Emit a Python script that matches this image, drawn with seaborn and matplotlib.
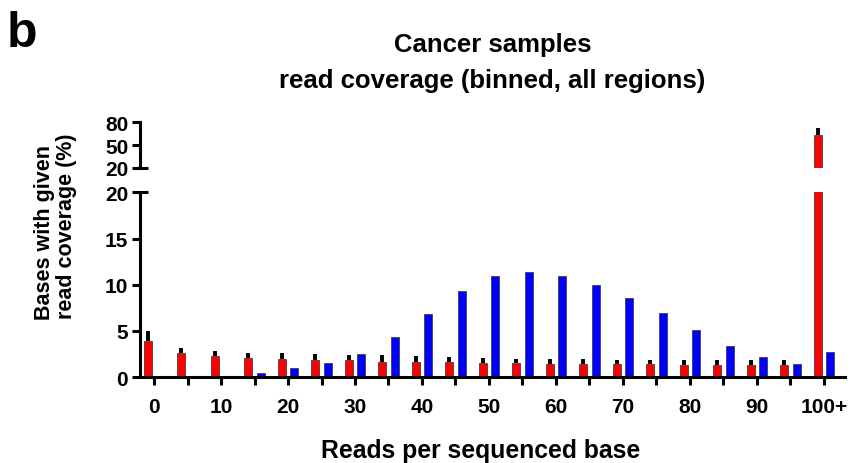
import numpy as np
import pandas as pd
import matplotlib
matplotlib.use("Agg")
import matplotlib.pyplot as plt
import matplotlib.transforms as mtransforms
import seaborn as sns

# ---- data ----
bins = ["0", "5", "10", "15", "20", "25", "30", "35", "40", "45", "50",
        "55", "60", "65", "70", "75", "80", "85", "90", "95", "100+"]
tick_labels = ["0", "", "10", "", "20", "", "30", "", "40", "", "50",
               "", "60", "", "70", "", "80", "", "90", "", "100+"]
red_values = [3.95, 2.6, 2.25, 2.1, 1.95, 1.87, 1.8, 1.66, 1.6, 1.6, 1.55,
              1.5, 1.45, 1.45, 1.42, 1.4, 1.35, 1.35, 1.35, 1.35, 63.0]
red_err = [1.05, 0.55, 0.55, 0.55, 0.6, 0.58, 0.6, 0.68, 0.68, 0.6, 0.5,
           0.45, 0.45, 0.45, 0.45, 0.45, 0.45, 0.45, 0.45, 0.45, 9.0]
blue_values = [0.0, 0.0, 0.0, 0.45, 0.95, 1.55, 2.53, 4.3, 6.8, 9.3, 10.9,
               11.35, 10.9, 10.0, 8.6, 6.95, 5.05, 3.4, 2.2, 1.45, 2.75]
series_names = ["Series 1", "Series 2"]
main_yticks = [0, 5, 10, 15, 20]
top_yticks = [20, 50, 80]

df = pd.DataFrame({
    "bin": bins + bins,
    "series": [series_names[0]] * len(bins) + [series_names[1]] * len(bins),
    "value": red_values + blue_values,
})

sns.set_style("ticks")
plt.rcParams["font.family"] = ["Liberation Sans", "DejaVu Sans"]
plt.rcParams["font.weight"] = "bold"
for k in ("text.color", "axes.labelcolor", "xtick.color", "ytick.color"):
    plt.rcParams[k] = "black"

RED = "#ff0000"
BLUE = "#0000ff"

fig = plt.figure(figsize=(8.53, 4.64), dpi=100)
ax = fig.add_axes([0.1641, 0.1853, 0.8265, 0.398])
ax_top = fig.add_axes([0.1641, 0.6358, 0.8265, 0.0985])

for a in (ax, ax_top):
    sns.barplot(data=df, x="bin", y="value", hue="series", order=bins,
                hue_order=series_names, palette=[RED, BLUE], saturation=1,
                width=0.735, gap=0.35, errorbar=None, edgecolor="#404040",
                linewidth=0.6, legend=False, ax=a)
    red_bars = a.containers[0]
    xs = [p.get_x() + p.get_width() / 2 for p in red_bars]
    a.errorbar(xs, red_values, yerr=[np.zeros(len(red_err)), red_err],
               fmt="none", ecolor="black", elinewidth=2.8, capsize=0, zorder=1)
    a.set_xlim(-0.42, 20.63)
    a.set_xlabel("")
    a.set_ylabel("")
    for s in ("top", "right"):
        a.spines[s].set_visible(False)
    for s in ("left", "bottom"):
        a.spines[s].set_linewidth(2.2)
        a.spines[s].set_color("black")
    a.tick_params(axis="both", width=2.2, length=5.5, labelsize=15,
                  colors="black", pad=3)

# main axes
ax.set_ylim(0, 20)
ax.set_yticks(main_yticks)
ax.set_yticklabels([str(v) for v in main_yticks], fontweight="bold")
ax.set_xticks(range(len(bins)))
ax.set_xticklabels(tick_labels, fontweight="bold")
ax.tick_params(axis="x", pad=9)

# top (broken) axes
ax_top.set_ylim(20, 80)
ax_top.set_yticks(top_yticks)
ax_top.set_yticklabels([str(v) for v in top_yticks], fontweight="bold")
ax_top.spines["bottom"].set_visible(False)
ax_top.set_xticks([])

# break marks at the axis ends
for a in (ax, ax_top):
    tr = mtransforms.blended_transform_factory(a.transAxes, a.transData)
    a.plot([0, 0.011], [20, 20], transform=tr, color="black", lw=2.2,
           clip_on=False, solid_capstyle="butt")

# texts
fig.text(0.5774, 0.889, "Cancer samples", ha="center", va="baseline",
         fontsize=18.5, fontweight="bold")
fig.text(0.5774, 0.811, "read coverage (binned, all regions)", ha="center",
         va="baseline", fontsize=18.5, fontweight="bold")
fig.text(0.563, 0.0123, "Reads per sequenced base", ha="center",
         va="baseline", fontsize=17.8, fontweight="bold")
fig.text(50 / 853, 1 - 233 / 464, "Bases with given", ha="center",
         va="baseline", rotation=90, rotation_mode="anchor", fontsize=15.5,
         fontweight="bold")
fig.text(72 / 853, 1 - 226 / 464, "read coverage (%)", ha="center",
         va="baseline", rotation=90, rotation_mode="anchor", fontsize=15.5,
         fontweight="bold")
fig.text(0.0082, 0.8987, "b", ha="left", va="baseline", fontsize=36,
         fontweight="bold")

fig.savefig("out.png", dpi=100)
